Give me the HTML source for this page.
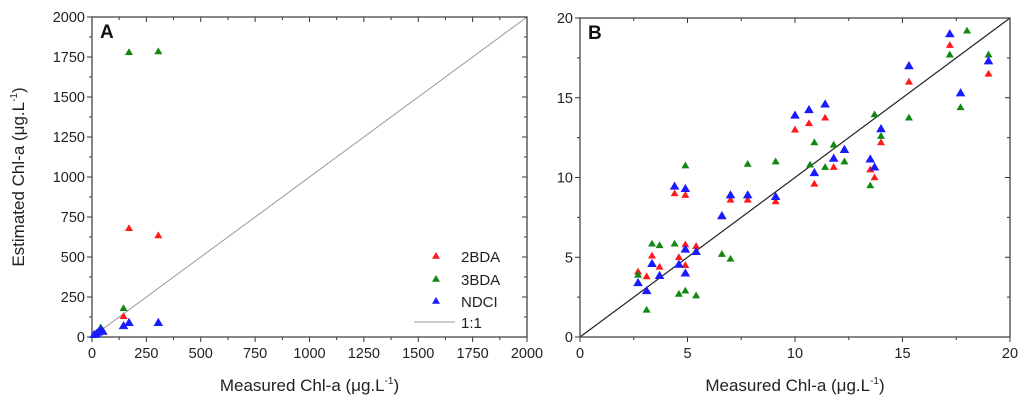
<!DOCTYPE html>
<html><head><meta charset="utf-8"><style>
body{margin:0;background:#fff;width:1024px;height:404px;overflow:hidden}
svg{font-family:"Liberation Sans",sans-serif}
</style></head><body>
<svg id="c" width="1024" height="404"></svg>
<script>
// Panel A data
const aRedX=[170,305,145,20,35];
const aRedY=[680,635,130,20,35];
const aGreenX=[170,305,145,40,25];
const aGreenY=[1780,1785,180,60,30];
const aBlueX=[170,305,145,10,20,30,40,50];
const aBlueY=[90,90,70,15,20,30,45,35];
const aTicks=[0,250,500,750,1000,1250,1500,1750,2000];
// Panel B data
const bRedX=[17.2,19.0,15.3,10.0,10.65,11.4,11.8,14.0,13.5,13.7,10.9,4.4,4.9,7.0,7.8,9.1,6.6,4.9,5.4,3.35,3.7,4.6,4.9,2.7,3.1];
const bRedY=[18.3,16.5,16.0,13.0,13.4,13.75,10.65,12.2,10.5,10.0,9.6,9.0,8.9,8.6,8.6,8.5,7.55,5.8,5.7,5.1,4.4,5.0,4.5,4.1,3.8];
const bGreenX=[17.2,18.0,19.0,15.3,17.7,10.9,11.8,12.3,13.7,14.0,13.5,10.7,11.4,4.9,7.8,9.1,3.35,3.7,4.4,6.6,7.0,2.7,3.1,4.6,4.9,5.4];
const bGreenY=[17.7,19.2,17.7,13.75,14.4,12.2,12.05,11.0,13.95,12.6,9.5,10.8,10.65,10.75,10.85,11.0,5.85,5.75,5.85,5.2,4.9,3.9,1.7,2.7,2.9,2.6];
const bBlueX=[17.2,19.0,15.3,17.7,10.0,10.65,11.4,11.8,12.3,14.0,13.5,13.7,10.9,4.4,4.9,7.0,7.8,9.1,6.6,4.9,5.4,3.35,3.7,4.6,4.9,2.7,3.1];
const bBlueY=[19.0,17.3,17.0,15.3,13.9,14.25,14.6,11.2,11.75,13.05,11.15,10.65,10.3,9.45,9.3,8.9,8.9,8.8,7.6,5.5,5.35,4.6,3.85,4.55,4.0,3.4,2.9];
const bTicks=[0,5,10,15,20];

const NS="http://www.w3.org/2000/svg";
const svg=document.getElementById('c');
function el(t,a,p){const e=document.createElementNS(NS,t);for(const k in a)e.setAttribute(k,a[k]);(p||svg).appendChild(e);return e;}
function tri(g,x,y,s,col){const e=el('path',{d:`M${x} ${y-s}L${x+s} ${y+s*0.7}L${x-s} ${y+s*0.7}Z`,fill:col},g);return e;}

function panel(cfg){
  const {x0,x1,y0,y1,max,ticks,minor,name}=cfg;
  const sx=v=>x0+(v/max)*(x1-x0), sy=v=>y1-(v/max)*(y1-y0);
  const g=el('g',{});
  
  
  const l=el('line',{x1:sx(0),y1:sy(0),x2:sx(max),y2:sy(max),stroke:cfg.lineCol,'stroke-width':cfg.lineW},g);
  
  
  for(let v=0;v<=max+1e-9;v+=minor){
    const major=ticks.some(t=>Math.abs(t-v)<1e-9);const len=major?5:3;
    el('line',{x1:sx(v),y1:y1,x2:sx(v),y2:y1+len,stroke:'#333'},g);
    el('line',{x1:sx(v),y1:y0,x2:sx(v),y2:y0+len,stroke:'#333'},g);
    el('line',{x1:x0,y1:sy(v),x2:x0-len,y2:sy(v),stroke:'#333'},g);
    el('line',{x1:x1,y1:sy(v),x2:x1-len,y2:sy(v),stroke:'#333'},g);
  }
  ticks.forEach(t=>{
    const a=el('text',{x:sx(t),y:y1+21,'text-anchor':'middle','font-size':14.5,fill:'#222'},g);a.textContent=t;
    
    
    const b=el('text',{x:x0-7,y:sy(t)+5,'text-anchor':'end','font-size':14.5,fill:'#222'},g);b.textContent=t;
    
    
  });
  el('rect',{x:x0,y:y0,width:x1-x0,height:y1-y0,fill:'none',stroke:'#444','stroke-width':1.3},g);
  const lb=el('text',{x:x0+8,y:y0+21,'font-size':19,'font-weight':'bold',fill:'#111'},g);lb.textContent=name;
  
  
  const series=[[cfg.rx,cfg.ry,'#ff1a1a',cfg.s],[cfg.gx,cfg.gy,'#118811',cfg.s],[cfg.bx,cfg.by,'#1a1aff',cfg.s+0.8]];
  series.forEach(([xs,ys,col,s])=>xs.forEach((v,i)=>{
    const m=tri(g,sx(v),sy(ys[i]),s,col);
    
    
  }));
  const xt=el('text',{x:(x0+x1)/2,y:391,'text-anchor':'middle','font-size':17,fill:'#222'},g);
  xt.innerHTML='Measured Chl-a (μg.L<tspan dy="-7" font-size="10">-1</tspan><tspan dy="7">)</tspan>';
  
  
}
panel({name:'A',x0:92,x1:527,y0:17,y1:337,max:2000,ticks:aTicks,minor:125,lineCol:'#999',lineW:1,s:4,
  rx:aRedX,ry:aRedY,gx:aGreenX,gy:aGreenY,bx:aBlueX,by:aBlueY});
panel({name:'B',x0:580,x1:1010,y0:18,y1:337,max:20,ticks:bTicks,minor:2.5,lineCol:'#222',lineW:1.2,s:4,
  rx:bRedX,ry:bRedY,gx:bGreenX,gy:bGreenY,bx:bBlueX,by:bBlueY});

const yt=el('text',{transform:'translate(24,177) rotate(-90)','text-anchor':'middle','font-size':17,fill:'#222'});
yt.innerHTML='Estimated Chl-a (μg.L<tspan dy="-7" font-size="10">-1</tspan><tspan dy="7">)</tspan>';



const lg=el('g',{});


const legItems=[['2BDA','#ff1a1a',256],['3BDA','#118811',279],['NDCI','#1a1aff',301]];
legItems.forEach(([t,c,y])=>{
  const e=tri(lg,436,y,4,c);
  
  
  const tx=el('text',{x:461,y:y+6,'font-size':15,fill:'#222'},lg);tx.textContent=t;
  
  
});
el('line',{x1:414,y1:322,x2:455,y2:322,stroke:'#999'},lg);
const one=el('text',{x:461,y:328,'font-size':15,fill:'#222'},lg);one.textContent='1:1';


</script>
</body></html>
